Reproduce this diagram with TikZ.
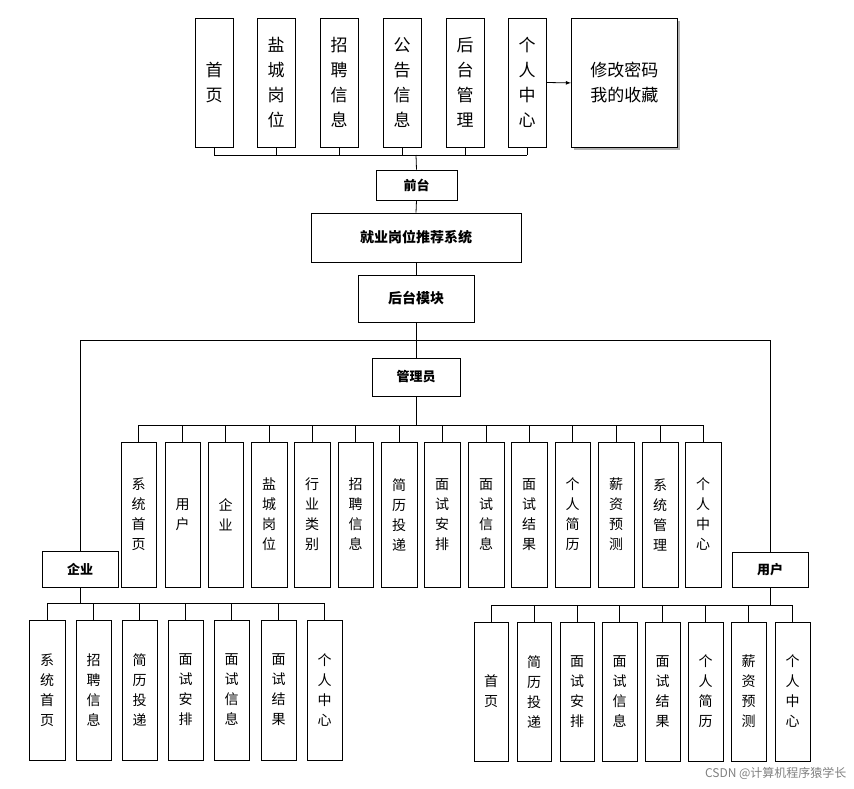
\documentclass[tikz,border=0pt]{standalone}
\usepackage{fontspec}
\setmainfont{Noto Sans CJK SC}
\begin{document}
\begin{tikzpicture}[x=1pt,y=-1pt,
  box/.style={draw,thick,fill=white,inner sep=0pt,align=center,font=\fontsize{14}{20}\selectfont},
  big/.style={box,font=\fontsize{17}{25}\selectfont},
  ln/.style={thick}]
\useasboundingbox (0,0) rectangle (854,789);
% top row
\foreach \n/\a/\b/\t in {t1/195/233/首\\页, t2/257/295/盐\\城\\岗\\位, t3/320/358/招\\聘\\信\\息, t4/383/421/公\\告\\信\\息, t5/446/484/后\\台\\管\\理, t6/508/546/个\\人\\中\\心}
  \node[big,minimum width={(\b-\a)*1pt},minimum height=129pt] (\n) at ({(\a+\b)/2},82.5) {\t};
\fill[gray!60] (574,21) rectangle (680,150);
\node[big,minimum width=106pt,minimum height=129pt,anchor=north west] (t7) at (571,18) {修改密码\\我的收藏};
\node[box,font=\fontsize{13}{16}\selectfont\bfseries,minimum width=81pt,minimum height=30pt] (qt) at (416.5,185) {前台};
\node[box,font=\fontsize{14}{16}\selectfont\bfseries,minimum width=210pt,minimum height=49pt] (sys) at (416,237.5) {就业岗位推荐系统};
\node[box,font=\fontsize{14}{16}\selectfont\bfseries,minimum width=116pt,minimum height=47pt] (ht) at (416,298.5) {后台模块};
\node[box,font=\fontsize{13}{16}\selectfont\bfseries,minimum width=88pt,minimum height=38pt] (gly) at (416,377) {管理员};
\node[box,font=\fontsize{13}{16}\selectfont\bfseries,minimum width=76pt,minimum height=36pt] (qy) at (80,569) {企业};
\node[box,font=\fontsize{13}{16}\selectfont\bfseries,minimum width=76pt,minimum height=35pt] (yh) at (770,569.5) {用户};
% top bus
\coordinate (tb) at (416,155);
\foreach \n in {t1,t2,t3,t4,t5,t6} \draw[ln] (\n.south) -- (\n.south|-tb);
\draw[ln] (t1.south|-tb) -- (t6.south|-tb);
\draw[ln,-latex] (t6.east) -- (t7.west);
\draw[ln] (tb) -- (qt.north);
\draw[ln] (qt.south) -- (sys.north);
\draw[ln] (sys.south) -- (ht.north);
\coordinate (hb) at (416,340);
\draw[ln] (ht.south) -- (gly.north);
\draw[ln] (qy.north) -- (qy.north|-hb) -- (yh.north|-hb) -- (yh.north);
% admin
\coordinate (ab) at (416,425);
\draw[ln] (gly.south) -- (ab);
\foreach \n/\a/\b/\t in {a1/121/156/系\\统\\首\\页, a2/165/200/用\\户, a3/208/243/企\\业, a4/251/287/盐\\城\\岗\\位, a5/294/330/行\\业\\类\\别, a6/338/373/招\\聘\\信\\息, a7/381/417/简\\历\\投\\递, a8/424/460/面\\试\\安\\排, a9/468/504/面\\试\\信\\息, a10/511/547/面\\试\\结\\果, a11/555/590/个\\人\\简\\历, a12/598/634/薪\\资\\预\\测, a13/642/678/系\\统\\管\\理, a14/685/721/个\\人\\中\\心}
 {\node[box,minimum width={(\b-\a)*1pt},minimum height=145pt] (\n) at ({(\a+\b)/2},514.5) {\t};
  \draw[ln] (\n.north) -- (\n.north|-ab);}
\draw[ln] (a1.north|-ab) -- (a14.north|-ab);
% enterprise
\coordinate (eb) at (80,603);
\draw[ln] (qy.south) -- (eb);
\foreach \n/\a/\b/\t in {e1/29/65/系\\统\\首\\页, e2/76/111/招\\聘\\信\\息, e3/122/157/简\\历\\投\\递, e4/168/203/面\\试\\安\\排, e5/214/249/面\\试\\信\\息, e6/261/296/面\\试\\结\\果, e7/307/342/个\\人\\中\\心}
 {\node[box,minimum width={(\b-\a)*1pt},minimum height=140pt] (\n) at ({(\a+\b)/2},690) {\t};
  \draw[ln] (\n.north) -- (\n.north|-eb);}
\draw[ln] (e1.north|-eb) -- (e7.north|-eb);
% user
\coordinate (ub) at (770,605);
\draw[ln] (yh.south) -- (ub);
\foreach \n/\a/\b/\t in {u1/474/508/首\\页, u2/517/551/简\\历\\投\\递, u3/560/594/面\\试\\安\\排, u4/602/637/面\\试\\信\\息, u5/645/680/面\\试\\结\\果, u6/688/723/个\\人\\简\\历, u7/731/766/薪\\资\\预\\测, u8/775/810/个\\人\\中\\心}
 {\node[box,minimum width={(\b-\a)*1pt},minimum height=139pt] (\n) at ({(\a+\b)/2},691.5) {\t};
  \draw[ln] (\n.north) -- (\n.north|-ub);}
\draw[ln] (u1.north|-ub) -- (u8.north|-ub);
\node[text=gray,font=\fontsize{12}{14}\selectfont,anchor=east] (wm) at (850,773) {CSDN @计算机程序猿学长};
\end{tikzpicture}
\end{document}
